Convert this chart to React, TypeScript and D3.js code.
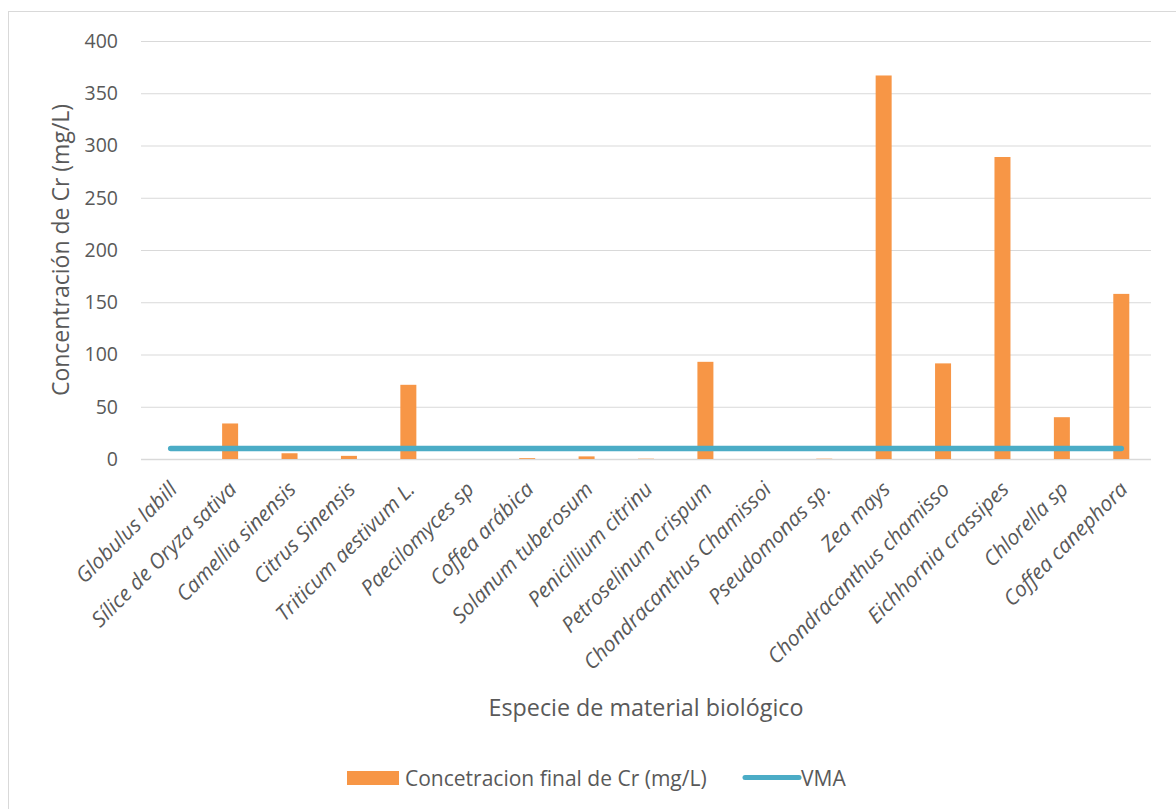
import React from "react";
import * as d3 from "d3";

// Species and final Cr concentration (mg/L)
const categories: string[] = [
  "Globulus labill",
  "Sílice de Oryza sativa",
  "Camellia sinensis",
  "Citrus Sinensis",
  "Triticum aestivum L.",
  "Paecilomyces sp",
  "Coffea arábica",
  "Solanum tuberosum",
  "Penicillium citrinu",
  "Petroselinum crispum",
  "Chondracanthus Chamissoi",
  "Pseudomonas sp.",
  "Zea mays",
  "Chondracanthus chamisso",
  "Eichhornia crassipes",
  "Chlorella sp",
  "Coffea canephora",
];

const concentration: number[] = [
  0, 34, 5.5, 3, 71, 0, 0.8, 2.5, 0.3, 93, 0, 0.3, 367, 91.5, 289, 40, 158,
];

// Maximum permissible value (VMA), constant across species
const vma: number[] = categories.map(() => 10);

const yTicks: number[] = [0, 50, 100, 150, 200, 250, 300, 350, 400];

const seriesNames = ["Concetracion final de Cr (mg/L)", "VMA"];

const W = 1176;
const H = 809;
const FONT = "'Open Sans', Lato, sans-serif";
const TEXT = "#595959";
const BAR = "#f79646";
const LINE = "#4bacc6";

export default function App() {
  const x = d3.scaleBand<string>().domain(categories).range([141, 1151]);
  const y = d3.scaleLinear().domain([0, 400]).range([459, 41]);
  const barW = 16;

  const lineGen = d3
    .line<number>()
    .x((_, i) => (x(categories[i]) as number) + x.bandwidth() / 2)
    .y((d) => y(d));

  return (
    <svg
      width={W}
      height={H}
      style={{ position: "absolute", left: 0, top: 0, background: "#fff" }}
      fontFamily={FONT}
    >
      <rect x={8.5} y={11.5} width={W + 10} height={H + 10} fill="#fff" stroke="#d9d9d9" />

      {/* gridlines and y tick labels */}
      {yTicks.map((t) => (
        <g key={t}>
          <line x1={141} x2={1151} y1={y(t) + 0.5} y2={y(t) + 0.5} stroke="#d9d9d9" strokeWidth={t === 0 ? 1.5 : 1} />
          <text x={118} y={y(t)} dy="0.35em" textAnchor="end" fontSize={19.5} fill={TEXT}>
            {t}
          </text>
        </g>
      ))}

      {/* bars */}
      {categories.map((c, i) => {
        const cx = (x(c) as number) + x.bandwidth() / 2;
        return (
          <rect
            key={c}
            x={cx - barW / 2}
            y={y(concentration[i])}
            width={barW}
            height={y(0) - y(concentration[i])}
            fill={BAR}
          />
        );
      })}

      {/* VMA line */}
      <path d={lineGen(vma) || ""} fill="none" stroke={LINE} strokeWidth={5.5} strokeLinecap="round" />

      {/* category labels */}
      {categories.map((c) => {
        const cx = (x(c) as number) + x.bandwidth() / 2;
        return (
          <text
            key={c}
            transform={`translate(${cx - 3},${480}) rotate(-45)`}
            textAnchor="end"
            dy="0.72em"
            fontSize={21}
            fontStyle="italic"
            fill={TEXT}
          >
            {c}
          </text>
        );
      })}

      {/* axis titles */}
      <text transform="translate(69,250) rotate(-90)" textAnchor="middle" fontSize={23} fill={TEXT}>
        Concentración de Cr (mg/L)
      </text>
      <text x={646} y={716} textAnchor="middle" fontSize={23.3} fill={TEXT}>
        Especie de material biológico
      </text>

      {/* legend */}
      <rect x={347} y={771} width={52} height={14} fill={BAR} />
      <text x={405} y={786} fontSize={21} fill={TEXT}>
        {seriesNames[0]}
      </text>
      <line x1={745} x2={799} y1={777.5} y2={777.5} stroke={LINE} strokeWidth={5} strokeLinecap="round" />
      <text x={801} y={786} fontSize={21} fill={TEXT}>
        {seriesNames[1]}
      </text>
    </svg>
  );
}
